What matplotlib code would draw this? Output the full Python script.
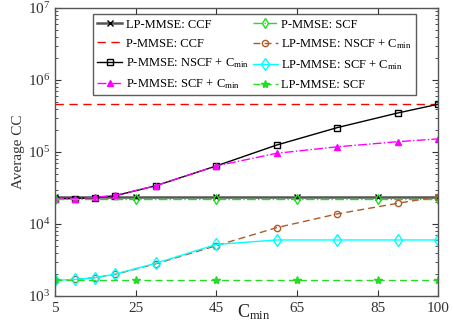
import matplotlib
matplotlib.use("Agg")
import matplotlib.pyplot as plt
import numpy as np

plt.rcParams['font.family'] = ['Liberation Serif', 'DejaVu Serif']
plt.rcParams['mathtext.fontset'] = 'custom'
plt.rcParams['mathtext.rm'] = 'Liberation Serif'
plt.rcParams['mathtext.it'] = 'Liberation Serif'

cmin = [5, 10, 15, 20, 30, 45, 60, 75, 90, 100]
cmin_flat = [5, 25, 45, 65, 85, 100]

lp_ccf = [23500] * 6
p_ccf = [460000] * 6
p_scf = [22000] * 6
lp_scf = [1650] * 6
p_nscf_cmin = [22500, 22500, 23300, 24700, 34000, 64000, 125000, 218000, 348000, 460000]
p_scf_cmin = [22500, 22500, 23500, 25000, 34000, 64000, 96000, 118000, 139000, 152000]
lp_nscf_cmin = [1650, 1700, 1800, 2000, 2800, 5000, 8900, 13800, 19400, 23900]
lp_scf_cmin = [1650, 1700, 1800, 2020, 2850, 5200, 6000, 6000, 6000, 6000]

fig = plt.figure(figsize=(4.53, 3.29), dpi=100)
ax = fig.add_axes([0.1214, 0.1003, 0.8455, 0.8754])

h1, = ax.plot(cmin_flat, lp_ccf, color='#555555', lw=1.8, marker='x', ms=4, mec='black', mew=1.0, label='LP-MMSE: CCF')
h2, = ax.plot(cmin_flat, p_ccf, color='red', lw=1.0, ls=(0, (6, 4)), label='P-MMSE: CCF')
h3, = ax.plot(cmin, p_nscf_cmin, color='black', lw=1.0, marker='s', ms=5, mfc='none', mec='black', label=r'P-MMSE: NSCF + C$_{\rm min}$')
h4, = ax.plot(cmin, p_scf_cmin, color='magenta', lw=1.0, ls='-.', marker='^', ms=5, mfc='magenta', label=r'P-MMSE: SCF + C$_{\rm min}$')
h5, = ax.plot(cmin_flat, p_scf, color='#22dd22', lw=1.0, ls='-.', marker='d', ms=5, mfc='none', mec='#22dd22', label='P-MMSE: SCF')
h6, = ax.plot(cmin, lp_nscf_cmin, color='#b05a2a', lw=1.0, ls=(0, (5, 3)), marker='o', ms=4.5, mfc='none', mec='#b05a2a', label=r'LP-MMSE: NSCF + C$_{\rm min}$')
h7, = ax.plot(cmin, lp_scf_cmin, color='cyan', lw=1.0, marker='d', ms=6, mfc='none', mec='cyan', label=r'LP-MMSE: SCF + C$_{\rm min}$')
h8, = ax.plot(cmin_flat, lp_scf, color='#22dd22', lw=1.0, ls=(0, (5, 3)), marker='*', ms=6, mfc='#22dd22', mec='#22dd22', label='LP-MMSE: SCF')

ax.set_yscale('log')
ax.set_xlim(5, 100)
ax.set_ylim(1e3, 1e7)
ax.set_xticks([5, 25, 45, 65, 85, 100])
ax.tick_params(axis='both', which='both', direction='in', top=True, right=True, labelsize=11, colors='#333333')
ax.tick_params(which='major', length=4)
ax.tick_params(which='minor', length=2.5)
ax.tick_params(axis='x', pad=4)
for s in ax.spines.values():
    s.set_color('#555555')
    s.set_linewidth(1.0)
for lab in ax.get_xticklabels() + ax.get_yticklabels():
    lab.set_color('#333333')

ax.set_ylabel('Average CC', fontsize=11, color='#333333', labelpad=2)
ax.set_xlabel(r'C$_{\rm min}$', fontsize=13, color='#222222')
ax.xaxis.set_label_coords(0.52, -0.022)

leg = ax.legend(handles=[h1, h2, h3, h4, h5, h6, h7, h8], ncol=2, loc='upper center',
                bbox_to_anchor=(0.521, 0.978), fontsize=9, frameon=True, fancybox=False,
                edgecolor='#333333', handlelength=2.0, handletextpad=0.3, columnspacing=0.3,
                labelspacing=0.55, borderpad=0.35, borderaxespad=0.0)
leg.get_frame().set_linewidth(1.0)

fig.savefig('out.png', dpi=100)
